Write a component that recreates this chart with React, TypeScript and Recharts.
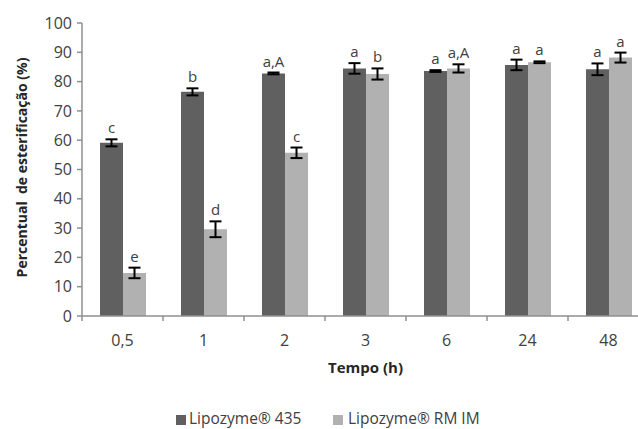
import React from 'react';
import { BarChart, Bar, XAxis, YAxis, ErrorBar, LabelList, Legend } from 'recharts';

const categories = ['0,5', '1', '2', '3', '6', '24', '48'];
const lipo435 = [59.1, 76.5, 82.8, 84.5, 83.6, 85.7, 84.2];
const lipo435Err = [1.2, 1.2, 0.3, 1.8, 0.3, 1.8, 2.0];
const lipoRM = [14.7, 29.6, 55.7, 82.6, 84.5, 86.6, 88.2];
const lipoRMErr = [1.8, 2.7, 1.8, 1.9, 1.4, 0.3, 1.7];
const labels435 = ['c', 'b', 'a,A', 'a', 'a', 'a', 'a'];
const labelsRM = ['e', 'd', 'c', 'b', 'a,A', 'a', 'a'];
const yTicks = [0, 10, 20, 30, 40, 50, 60, 70, 80, 90, 100];

const data = categories.map((c, i) => ({
  cat: c,
  a: lipo435[i],
  aErr: lipo435Err[i],
  aLab: labels435[i],
  b: lipoRM[i],
  bErr: lipoRMErr[i],
  bLab: labelsRM[i],
}));

const DARK = '#606060';
const LIGHT = '#b1b1b1';
const AXIS = '#8f8f8f';
const TEXT = '#404040';
const FONT = '"Open Sans", sans-serif';

const makeLabel = (errs: number[], vals: number[]) => (props: any) => {
  const { x, y, width, height, value, index } = props;
  const pxPer = height / vals[index];
  const errPx = errs[index] * pxPer;
  return (
    <text x={x + width / 2} y={y - errPx - 6} textAnchor="middle" fontSize={15} fill={TEXT} fontFamily={FONT}>
      {value}
    </text>
  );
};

const XTick = (props: any) => {
  const { x, y, payload } = props;
  const off = payload && payload.offset ? payload.offset : 40.5;
  return (
    <g>
      <line x1={x - off} y1={y} x2={x - off} y2={y + 5} stroke={AXIS} strokeWidth={1.5} />
      <text x={x} y={y + 30} textAnchor="middle" fontSize={16} fill={TEXT} fontFamily={FONT}>
        {payload.value}
      </text>
    </g>
  );
};

const LegendContent = () => (
  <div style={{ position: 'relative', height: 20, fontFamily: FONT, fontSize: 15.5, color: TEXT }}>
    <div style={{ position: 'absolute', left: 176, top: 5, width: 10, height: 10, background: DARK }} />
    <div style={{ position: 'absolute', left: 189, top: -3, whiteSpace: 'nowrap' }}>Lipozyme® 435</div>
    <div style={{ position: 'absolute', left: 333, top: 5, width: 10, height: 10, background: LIGHT }} />
    <div style={{ position: 'absolute', left: 348, top: -3, whiteSpace: 'nowrap' }}>Lipozyme® RM IM</div>
  </div>
);

export default function App() {
  return (
    <div style={{ position: 'absolute', left: 0, top: 0, width: 638, height: 429, overflow: 'hidden', background: '#fff' }}>
      <BarChart
        width={660}
        height={429}
        data={data}
        margin={{ top: 23, right: 11, bottom: 0, left: 0 }}
        barGap={0}
        barSize={23}
      >
        <XAxis
          dataKey="cat"
          height={113}
          tickSize={0}
          tickMargin={0}
          tickLine={false}
          axisLine={{ stroke: AXIS, strokeWidth: 1.5 }}
          tick={<XTick />}
          interval={0}
          label={{
            content: (p: any) => {
              const vb = p.viewBox || { x: 82, y: 316, width: 567 };
              return (
                <text x={vb.x + vb.width / 2} y={vb.y + 57} textAnchor="middle" fontSize={15} fontWeight="bold" fill="#262626" fontFamily={FONT}>
                  Tempo (h)
                </text>
              );
            },
          }}
        />
        <YAxis
          width={82}
          domain={[0, 100]}
          ticks={yTicks}
          interval={0}
          tickSize={5}
          tickMargin={5}
          tick={{ fontSize: 16, fill: TEXT, fontFamily: FONT }}
          tickLine={{ stroke: AXIS, strokeWidth: 1.5 }}
          axisLine={{ stroke: AXIS, strokeWidth: 1.5 }}
          label={{
            content: (p: any) => {
              const vb = p.viewBox || { x: 0, y: 23, width: 82, height: 293 };
              const cx = vb.x + 21;
              const cy = vb.y + vb.height / 2 - 2;
              return (
                <text x={cx} y={cy} transform={`rotate(-90, ${cx}, ${cy})`} textAnchor="middle" dominantBaseline="central" fontSize={14} fontWeight="bold" fill="#262626" fontFamily={FONT}>
                  {'Percentual\u00A0 de esterificação (%)'}
                </text>
              );
            },
          }}
        />
        <Legend
          layout="horizontal"
          verticalAlign="middle"
          align="center"
          wrapperStyle={{ top: 410, left: 0, width: 638 }}
          content={<LegendContent />}
        />
        <Bar dataKey="a" name="Lipozyme® 435" fill={DARK} isAnimationActive={false}>
          <ErrorBar dataKey="aErr" width={6} stroke="#000" strokeWidth={2} />
          <LabelList dataKey="aLab" content={makeLabel(lipo435Err, lipo435)} />
        </Bar>
        <Bar dataKey="b" name="Lipozyme® RM IM" fill={LIGHT} isAnimationActive={false}>
          <ErrorBar dataKey="bErr" width={6} stroke="#000" strokeWidth={2} />
          <LabelList dataKey="bLab" content={makeLabel(lipoRMErr, lipoRM)} />
        </Bar>
      </BarChart>
    </div>
  );
}
